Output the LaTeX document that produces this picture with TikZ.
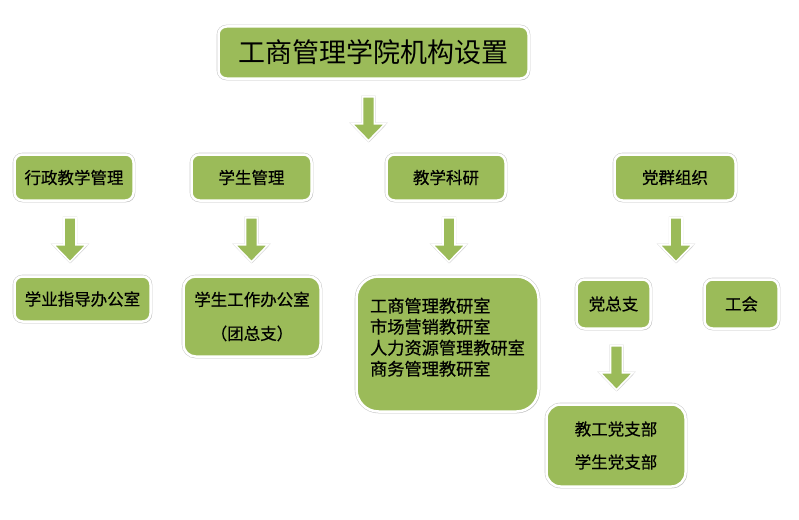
\documentclass[tikz,border=0pt]{standalone}
\usepackage{fontspec}
\setmainfont{Noto Sans CJK SC}
\newfontfamily\heavyfont[FakeBold=0.5]{Noto Sans CJK SC}
\usetikzlibrary{calc,shadows}
\definecolor{boxgreen}{HTML}{9BBB59}
\tikzset{
	box/.style={rectangle, rounded corners=8pt, fill=boxgreen, draw=white, line width=2.5pt, inner sep=0pt,
		preaction={draw=black!20, line width=3.6pt},
		drop shadow={shadow xshift=1.3pt, shadow yshift=-1.6pt, fill=black!28},
		font=\heavyfont\fontsize{16.5}{20}\selectfont},
	flow/.style={fill=boxgreen, draw=white, line width=1.6pt, line join=miter,
		preaction={draw=black!15, line width=2.4pt},
		drop shadow={shadow xshift=1pt, shadow yshift=-1.2pt, fill=black!22}}
}
\def\blockarrow(#1)(#2:#3){\draw[flow] ($(#1.south)+(#2,#3)$) ++(-6,0) -- ++(12,0) -- ++(0,27) -- ++(10.5,0) -- ++(-16.5,17) -- ++(-16.5,-17) -- ++(10.5,0) -- cycle;}

\begin{document}
\begin{tikzpicture}[x=1pt, y=-1pt]
			%%%%% START %%%%%
			
			\useasboundingbox[fill=white] (0, 0) rectangle (799, 519);
			
			\node[box, minimum width=310pt, minimum height=52pt, font=\rmfamily\fontsize{27}{30}\selectfont] (title) at (373.5, 52.5) {工商管理学院机构设置};
			
			\node[box, minimum width=119pt, minimum height=46pt] (xingzheng) at (74, 177.5) {行政教学管理};
			\node[box, minimum width=120pt, minimum height=46pt] (xuesheng) at (251.5, 177.5) {学生管理};
			\node[box, minimum width=119pt, minimum height=46pt] (jiaoxue) at (446, 177.5) {教学科研};
			\node[box, minimum width=121pt, minimum height=46pt] (dangqun) at (675, 177.5) {党群组织};
			
			\node[box, minimum width=136pt, minimum height=45pt] (xueye) at (82.5, 299) {学业指导办公室};
			\node[box, minimum width=137pt, minimum height=80pt, rounded corners=12pt, align=center] (xuegong) at (252, 316.5) {学生工作办公室\\[14pt]（团总支）};
			\node[box, minimum width=182pt, minimum height=135pt, rounded corners=22pt, align=left, text depth=15pt, font=\heavyfont\fontsize{17.2}{21}\selectfont] (jiaoyan) at (447.5, 344) {工商管理教研室\\市场营销教研室\\人力资源管理教研室\\商务管理教研室};
			\node[box, minimum width=74pt, minimum height=49pt] (dangzong) at (613.5, 304) {党总支};
			\node[box, minimum width=74pt, minimum height=49pt] (gonghui) at (741.5, 304) {工会};
			\node[box, minimum width=139pt, minimum height=82pt, rounded corners=14pt, align=center] (zhibu) at (616, 445.5) {教工党支部\\[13pt]学生党支部};
			
			\blockarrow(title)(-5:17)
			\blockarrow(xingzheng)(-4:16)
			\blockarrow(xuesheng)(0:16)
			\blockarrow(jiaoxue)(3:16)
			\blockarrow(dangqun)(1:16)
			\blockarrow(dangzong)(3:16)
			
			%%%%% END %%%%%
\end{tikzpicture}
\end{document}
